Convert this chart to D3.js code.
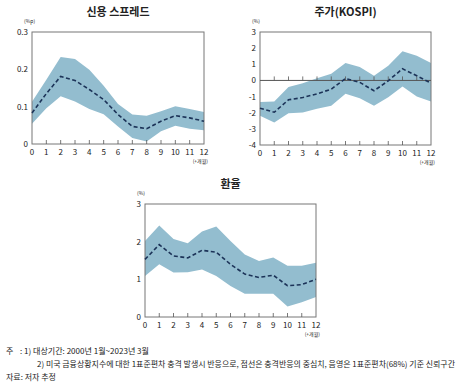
<!DOCTYPE html>
<html>
<head>
<meta charset="utf-8">
<script src="https://cdn.jsdelivr.net/npm/d3@7"></script>
<style>
  body { margin: 0; background: #fff; }
  svg { display: block; }
  text { font-family: "Noto Sans CJK KR", "Noto Sans", sans-serif; fill: #222; }
</style>
</head>
<body>
<svg id="chart" width="459" height="389"></svg>
<script>
// 개월 (horizon)
const months = [0, 1, 2, 3, 4, 5, 6, 7, 8, 9, 10, 11, 12];

// 신용 스프레드
const spreadMid = [0.083, 0.135, 0.181, 0.170, 0.146, 0.119, 0.079, 0.047, 0.041, 0.061, 0.076, 0.070, 0.061];
const spreadUp  = [0.113, 0.172, 0.233, 0.228, 0.199, 0.156, 0.107, 0.079, 0.076, 0.088, 0.101, 0.094, 0.086];
const spreadLo  = [0.054, 0.096, 0.128, 0.114, 0.094, 0.080, 0.047, 0.016, 0.007, 0.034, 0.049, 0.041, 0.037];

// 주가(KOSPI)
const kospiMid = [-1.72, -1.97, -1.20, -1.06, -0.83, -0.54, 0.12, -0.12, -0.64, -0.02, 0.72, 0.29, -0.17];
const kospiUp  = [-1.33, -1.30, -0.41, -0.17, 0.14, 0.41, 1.08, 0.83, 0.29, 0.91, 1.80, 1.53, 1.08];
const kospiLo  = [-2.19, -2.61, -2.03, -1.99, -1.76, -1.57, -0.83, -1.10, -1.57, -1.04, -0.37, -0.99, -1.30];

// 환율
const fxMid = [1.53, 1.92, 1.62, 1.57, 1.77, 1.72, 1.40, 1.14, 1.05, 1.11, 0.83, 0.86, 1.00];
const fxUp  = [2.02, 2.43, 2.07, 1.96, 2.27, 2.40, 2.02, 1.66, 1.49, 1.58, 1.36, 1.36, 1.44];
const fxLo  = [1.09, 1.40, 1.18, 1.19, 1.26, 1.09, 0.82, 0.62, 0.62, 0.62, 0.28, 0.39, 0.53];

const spreadTicks = [0, 0.1, 0.2, 0.3];
const kospiTicks = [-4, -3, -2, -1, 0, 1, 2, 3];
const fxTicks = [0, 1, 2, 3];

const notes = [
  "1) 대상기간: 2000년 1월~2023년 3월",
  "2) 미국 금융상황지수에 대한 1표준편차 충격 발생시 반응으로, 점선은 충격반응의 중심치, 음영은 1표준편차(68%) 기준 신뢰구간",
  "자료: 저자 추정"
];

const svg = d3.select("#chart");

function panel(opt) {
  const g = svg.append("g");
  const x = d3.scaleLinear().domain([0, 12]).range([opt.x0, opt.x1]);
  const y = d3.scaleLinear().domain(opt.domain).range([opt.y1, opt.y0]);

  g.append("text").attr("x", (opt.x0 + opt.x1) / 2).attr("y", opt.y0 - 16)
    .attr("text-anchor", "middle").attr("font-size", 11).attr("font-weight", "bold")
    .text(opt.title);

  g.append("text").attr("x", opt.x0 - 8).attr("y", opt.y0 - 9)
    .attr("font-size", 5).text(opt.unit);

  const band = d3.area().x((d, i) => x(months[i])).y0(d => y(d[0])).y1(d => y(d[1]));
  g.append("path").datum(opt.lo.map((v, i) => [v, opt.up[i]]))
    .attr("d", band).attr("fill", "#93bdcf");

  // 프레임
  g.append("rect").attr("x", opt.x0).attr("y", opt.y0)
    .attr("width", opt.x1 - opt.x0).attr("height", opt.y1 - opt.y0)
    .attr("fill", "none").attr("stroke", "#777").attr("stroke-width", 1);

  const tickBase = [y(opt.domain[0])];
  if (opt.domain[0] < 0) tickBase.push(y(0));
  if (opt.domain[0] < 0) {
    g.append("line").attr("x1", opt.x0).attr("x2", opt.x1)
      .attr("y1", y(0)).attr("y2", y(0)).attr("stroke", "#555").attr("stroke-width", 1);
  }
  tickBase.forEach(b => {
    g.append("g").selectAll("line").data(months.slice(1, -1)).join("line")
      .attr("x1", d => x(d)).attr("x2", d => x(d))
      .attr("y1", b).attr("y2", b - 4).attr("stroke", "#555").attr("stroke-width", 0.8);
  });

  const line = d3.line().x((d, i) => x(months[i])).y(d => y(d));
  g.append("path").datum(opt.mid).attr("d", line)
    .attr("fill", "none").attr("stroke", "#1c3358").attr("stroke-width", 1.6)
    .attr("stroke-dasharray", "4,2.5");

  g.append("g").selectAll("text").data(opt.ticks).join("text")
    .attr("x", opt.x0 - 4).attr("y", d => y(d) + 3)
    .attr("text-anchor", "end").attr("font-size", 8)
    .text(d => opt.fmt(d));

  g.append("g").selectAll("text").data(months).join("text")
    .attr("x", d => x(d)).attr("y", opt.y1 + 11)
    .attr("text-anchor", "middle").attr("font-size", 8)
    .text(d => d);

  g.append("text").attr("x", opt.x1 + 4).attr("y", opt.y1 + 19)
    .attr("text-anchor", "end").attr("font-size", 5).text("(+개월)");
}

panel({ title: "신용 스프레드", unit: "(%p)", x0: 32, x1: 204, y0: 32, y1: 144,
  domain: [0, 0.3], ticks: spreadTicks, fmt: d => d === 0 ? "0" : d3.format(".1f")(d),
  mid: spreadMid, up: spreadUp, lo: spreadLo });

panel({ title: "주가(KOSPI)", unit: "(%)", x0: 260, x1: 431, y0: 32, y1: 145,
  domain: [-4, 3], ticks: kospiTicks, fmt: d => d,
  mid: kospiMid, up: kospiUp, lo: kospiLo });

panel({ title: "환율", unit: "(%)", x0: 145, x1: 316, y0: 204, y1: 317,
  domain: [0, 3], ticks: fxTicks, fmt: d => d,
  mid: fxMid, up: fxUp, lo: fxLo });

svg.append("text").attr("x", 6).attr("y", 354).attr("font-size", 8).text("주");
svg.append("text").attr("x", 20).attr("y", 354).attr("font-size", 8).text(":");
svg.append("text").attr("x", 24).attr("y", 354).attr("font-size", 8)
  .attr("textLength", 125).attr("lengthAdjust", "spacingAndGlyphs").text(notes[0]);
svg.append("text").attr("x", 37).attr("y", 367).attr("font-size", 8)
  .attr("textLength", 418).attr("lengthAdjust", "spacingAndGlyphs").text(notes[1]);
svg.append("text").attr("x", 6).attr("y", 380).attr("font-size", 8).text(notes[2]);
</script>
</body>
</html>
